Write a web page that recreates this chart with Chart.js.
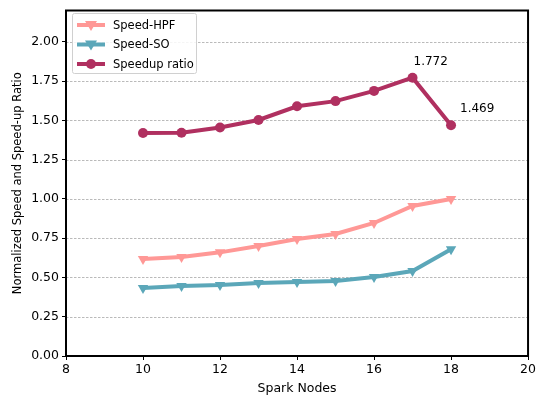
<!DOCTYPE html>
<html>
<head>
<meta charset="utf-8">
<script src="https://cdn.jsdelivr.net/npm/chart.js@4/dist/chart.umd.min.js"></script>
<style>
  html, body { margin: 0; padding: 0; background: #fff; }
  #wrap { width: 538px; height: 399px; }
</style>
</head>
<body>
<div id="wrap"><canvas id="c" width="538" height="399"></canvas></div>
<script>
// Cluster size (number of Spark nodes)
const nodes = [10, 11, 12, 13, 14, 15, 16, 17, 18];
// Normalized speed of the HPF variant
const speedHPF = [0.618, 0.630, 0.660, 0.700, 0.745, 0.777, 0.847, 0.955, 1.000];
// Normalized speed of the SO variant
const speedSO = [0.433, 0.446, 0.452, 0.465, 0.471, 0.478, 0.503, 0.541, 0.680];
// Speed-up ratio between the two
const speedupRatio = [1.420, 1.421, 1.455, 1.503, 1.590, 1.623, 1.688, 1.772, 1.469];
// Points that carry a value label
const labelledNodes = [17, 18];
const yTicks = [0, 0.25, 0.5, 0.75, 1.0, 1.25, 1.5, 1.75, 2.0];
const xTicks = [8, 10, 12, 14, 16, 18, 20];

const FONT = 'DejaVu Sans';
const pts = (ys) => nodes.map((x, i) => ({ x: x, y: ys[i] }));

const series = [
  { label: 'Speed-HPF', data: pts(speedHPF), color: '#ff9896', style: 'triangle', rotation: 180, radius: 6 },
  { label: 'Speed-SO', data: pts(speedSO), color: '#5ba7b9', style: 'triangle', rotation: 180, radius: 6 },
  { label: 'Speedup ratio', data: pts(speedupRatio), color: '#b03060', style: 'circle', rotation: 0, radius: 5 }
];

// Dashed horizontal grid lines, drawn beneath the series
const gridPlugin = {
  id: 'dashGrid',
  beforeDatasetsDraw(chart) {
    const { ctx, chartArea, scales } = chart;
    ctx.save();
    ctx.strokeStyle = '#a8a8a8';
    ctx.lineWidth = 0.8;
    ctx.setLineDash([2.5, 1.5]);
    yTicks.forEach(v => {
      if (v === 0) return;
      const y = Math.round(scales.y.getPixelForValue(v)) + 0.5;
      ctx.beginPath();
      ctx.moveTo(chartArea.left, y);
      ctx.lineTo(chartArea.right, y);
      ctx.stroke();
    });
    ctx.restore();
  }
};

// Frame around the plot, legend box and value labels
const decorPlugin = {
  id: 'decor',
  afterDraw(chart) {
    const { ctx, chartArea, scales } = chart;
    ctx.save();
    ctx.strokeStyle = '#000';
    ctx.lineWidth = 2;
    ctx.setLineDash([]);
    ctx.strokeRect(chartArea.left, chartArea.top, chartArea.right - chartArea.left, chartArea.bottom - chartArea.top);

    // value labels on the speed-up line
    ctx.fillStyle = '#000';
    ctx.font = '12px ' + FONT;
    ctx.textBaseline = 'middle';
    ctx.textAlign = 'left';
    labelledNodes.forEach((n, k) => {
      const i = nodes.indexOf(n);
      const v = speedupRatio[i];
      const px = scales.x.getPixelForValue(n);
      const py = scales.y.getPixelForValue(v);
      const dx = k === 0 ? 1 : 9;
      ctx.fillText(v.toFixed(3), px + dx, py - 16);
    });

    // legend
    const lx = 72, ly = 13, lw = 124, lh = 60;
    ctx.fillStyle = 'rgba(255,255,255,0.85)';
    ctx.strokeStyle = '#d0d0d0';
    ctx.lineWidth = 1;
    ctx.beginPath();
    ctx.roundRect(lx + 0.5, ly + 0.5, lw, lh, 2);
    ctx.fill();
    ctx.stroke();
    series.forEach((s, i) => {
      const y = ly + 12 + i * 19.5;
      ctx.strokeStyle = s.color;
      ctx.lineWidth = 4;
      ctx.beginPath();
      ctx.moveTo(77, y);
      ctx.lineTo(105, y);
      ctx.stroke();
      ctx.fillStyle = s.color;
      if (s.style === 'circle') {
        ctx.beginPath();
        ctx.arc(91, y, 5, 0, Math.PI * 2);
        ctx.fill();
      } else {
        ctx.beginPath();
        ctx.moveTo(85, y - 4);
        ctx.lineTo(97, y - 4);
        ctx.lineTo(91, y + 6);
        ctx.closePath();
        ctx.fill();
      }
      ctx.fillStyle = '#000';
      ctx.font = '11.5px ' + FONT;
      ctx.textAlign = 'left';
      ctx.textBaseline = 'middle';
      ctx.fillText(s.label, 113, y + 1);
    });
    ctx.restore();
  }
};

new Chart(document.getElementById('c'), {
  type: 'line',
  data: {
    datasets: series.map(s => ({
      label: s.label,
      data: s.data,
      borderColor: s.color,
      backgroundColor: s.color,
      borderWidth: 4,
      pointStyle: s.style,
      pointRotation: s.rotation,
      pointRadius: s.radius,
      pointBorderWidth: 0,
      pointHoverRadius: s.radius,
      tension: 0,
      fill: false
    }))
  },
  options: {
    responsive: false,
    animation: false,
    layout: { padding: { left: 11, right: 9, top: 8, bottom: 0 } },
    plugins: {
      legend: { display: false },
      tooltip: { enabled: false }
    },
    scales: {
      x: {
        type: 'linear',
        min: 8,
        max: 20,
        afterBuildTicks(scale) { scale.ticks = xTicks.map(v => ({ value: v })); },
        ticks: { color: '#000', font: { family: FONT, size: 12.5 }, padding: 2, maxRotation: 0 },
        grid: { drawOnChartArea: false, drawTicks: true, tickLength: 4, tickColor: '#000', tickWidth: 1 },
        border: { display: true, color: '#000', width: 2 },
        title: { display: true, text: 'Spark Nodes', color: '#000', font: { family: FONT, size: 12.5 }, padding: { top: 2, bottom: 3 } }
      },
      y: {
        min: 0,
        max: 2.2,
        afterBuildTicks(scale) { scale.ticks = yTicks.map(v => ({ value: v })); },
        afterFit(scale) { scale.width = 55; },
        ticks: { color: '#000', font: { family: FONT, size: 12.5 }, padding: 3, callback: v => Number(v).toFixed(2) },
        grid: { drawOnChartArea: false, drawTicks: true, tickLength: 4, tickColor: '#000', tickWidth: 1 },
        border: { display: true, color: '#000', width: 2 },
        title: { display: true, text: 'Normalized Speed and Speed-up Ratio', color: '#000', font: { family: FONT, size: 11.5 }, padding: { top: 0, bottom: 2 } }
      }
    }
  },
  plugins: [gridPlugin, decorPlugin]
});
</script>
</body>
</html>
